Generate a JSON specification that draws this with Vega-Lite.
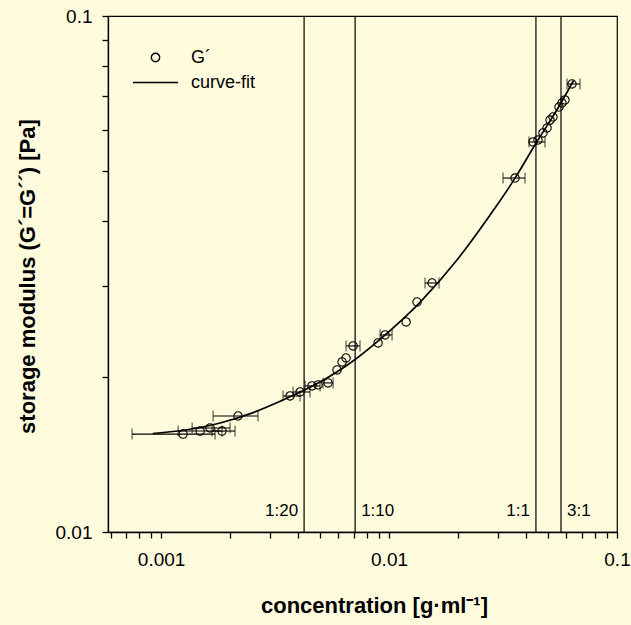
{
  "$schema": "https://vega.github.io/schema/vega-lite/v6.json",
  "width": 509,
  "height": 516,
  "autosize": {"type": "none"},
  "padding": {"left": 108, "top": 16, "right": 14, "bottom": 93},
  "background": "#FFFBDC",
  "config": {
    "view": {"stroke": "black", "strokeWidth": 1.2},
    "font": "Liberation Sans",
    "axis": {
      "grid": false,
      "domainColor": "black",
      "domainWidth": 1.3,
      "tickColor": "black",
      "tickWidth": 1.3,
      "tickSize": 6,
      "labelColor": "black",
      "titleColor": "black",
      "labelFont": "Liberation Sans",
      "titleFont": "Liberation Sans",
      "labelFontSize": 19,
      "titleFontSize": 22,
      "titleFontWeight": "bold",
      "labelOverlap": false,
      "labelFlush": false,
      "labelBound": false
    },
    "legend": {
      "orient": "none",
      "legendX": 24,
      "legendY": 29,
      "padding": 0,
      "labelFont": "Liberation Sans",
      "labelFontSize": 18,
      "labelColor": "black",
      "labelOffset": 12,
      "rowPadding": 0,
      "clipHeight": 25,
      "symbolStrokeColor": "black",
      "symbolStrokeWidth": 1.4,
      "symbolFillColor": "transparent"
    }
  },
  "datasets": {
    "points": [
      {"c": 0.001249, "g": 0.01548, "lo": 0.000746, "hi": 0.001725, "s": "G´"},
      {"c": 0.001483, "g": 0.01569, "lo": 0.001188, "hi": 0.001851, "s": "G´"},
      {"c": 0.00164, "g": 0.01591, "lo": 0.001368, "hi": 0.002007, "s": "G´"},
      {"c": 0.001851, "g": 0.01569, "lo": 0.001674, "hi": 0.002111, "s": "G´"},
      {"c": 0.002176, "g": 0.01678, "lo": 0.001691, "hi": 0.002663, "s": "G´"},
      {"c": 0.003679, "g": 0.01835, "lo": 0.003428, "hi": 0.004071, "s": "G´"},
      {"c": 0.004071, "g": 0.01868, "lo": 0.003792, "hi": 0.004501, "s": "G´"},
      {"c": 0.004594, "g": 0.01919, "lo": 0.004281, "hi": 0.004982, "s": "G´"},
      {"c": 0.004882, "g": 0.01928, "s": "G´"},
      {"c": 0.005402, "g": 0.01945, "lo": 0.005135, "hi": 0.005682, "s": "G´"},
      {"c": 0.005915, "g": 0.02061, "s": "G´"},
      {"c": 0.006222, "g": 0.02136, "s": "G´"},
      {"c": 0.006478, "g": 0.02174, "s": "G´"},
      {"c": 0.006953, "g": 0.02294, "lo": 0.006478, "hi": 0.007459, "s": "G´"},
      {"c": 0.00895, "g": 0.02325, "s": "G´"},
      {"c": 0.009605, "g": 0.02409, "lo": 0.009131, "hi": 0.01031, "s": "G´"},
      {"c": 0.01188, "g": 0.02553, "s": "G´"},
      {"c": 0.01327, "g": 0.02791, "s": "G´"},
      {"c": 0.01544, "g": 0.03038, "lo": 0.01438, "hi": 0.01657, "s": "G´"},
      {"c": 0.0357, "g": 0.04853, "lo": 0.03162, "hi": 0.03949, "s": "G´"},
      {"c": 0.04281, "g": 0.057, "lo": 0.04111, "hi": 0.04833, "s": "G´"},
      {"c": 0.04502, "g": 0.0575, "s": "G´"},
      {"c": 0.04736, "g": 0.05934, "s": "G´"},
      {"c": 0.04932, "g": 0.06066, "s": "G´"},
      {"c": 0.05083, "g": 0.06286, "s": "G´"},
      {"c": 0.05239, "g": 0.06372, "s": "G´"},
      {"c": 0.05565, "g": 0.06662, "s": "G´"},
      {"c": 0.05737, "g": 0.06783, "s": "G´"},
      {"c": 0.05913, "g": 0.06875, "s": "G´"},
      {"c": 0.06346, "g": 0.07383, "lo": 0.06035, "hi": 0.06883, "s": "G´"}
    ],
    "curve": [
      {"c": 0.00092, "g": 0.01552},
      {"c": 0.0013, "g": 0.01578},
      {"c": 0.0018, "g": 0.01625},
      {"c": 0.0025, "g": 0.017},
      {"c": 0.0035, "g": 0.0181},
      {"c": 0.005, "g": 0.01955},
      {"c": 0.007, "g": 0.0215},
      {"c": 0.0091, "g": 0.0236},
      {"c": 0.0137, "g": 0.0279},
      {"c": 0.0199, "g": 0.0337},
      {"c": 0.0277, "g": 0.0411},
      {"c": 0.0357, "g": 0.0485},
      {"c": 0.0437, "g": 0.0563},
      {"c": 0.0562, "g": 0.0673},
      {"c": 0.0645, "g": 0.075}
    ],
    "ratios": [
      {"c": 0.00424, "label": "1:20", "side": "left"},
      {"c": 0.0071, "label": "1:10", "side": "right"},
      {"c": 0.0441, "label": "1:1", "side": "left"},
      {"c": 0.0568, "label": "3:1", "side": "right"}
    ]
  },
  "layer": [
    {
      "data": {"name": "ratios"},
      "mark": {"type": "rule", "color": "black", "strokeWidth": 1.2},
      "encoding": {
        "x": {
          "field": "c",
          "type": "quantitative",
          "scale": {"type": "log", "domain": [0.000585, 0.1], "nice": false},
          "axis": {
            "title": "concentration [g·ml⁻¹]",
            "values": [0.0006, 0.0007, 0.0008, 0.0009, 0.001, 0.002, 0.003, 0.004, 0.005, 0.006, 0.007, 0.008, 0.009, 0.01, 0.02, 0.03, 0.04, 0.05, 0.06, 0.07, 0.08, 0.09, 0.1],
            "labelExpr": "datum.value == 0.001 ? '0.001' : datum.value == 0.01 ? '0.01' : datum.value == 0.1 ? '0.1' : ''",
            "labelPadding": 12,
            "titleX": 266,
            "titleY": 73,
            "titleBaseline": "middle"
          }
        }
      }
    },
    {
      "data": {"name": "points"},
      "transform": [{"filter": "isValid(datum.lo)"}],
      "mark": {"type": "rule", "color": "black", "strokeWidth": 1.1},
      "encoding": {
        "x": {"field": "lo", "type": "quantitative"},
        "x2": {"field": "hi"},
        "y": {
          "field": "g",
          "type": "quantitative",
          "scale": {"type": "log", "domain": [0.01, 0.1], "nice": false},
          "axis": {
            "title": "storage modulus (G´=G´´) [Pa]",
            "values": [0.01, 0.02, 0.03, 0.04, 0.05, 0.06, 0.07, 0.08, 0.09, 0.1],
            "labelExpr": "datum.value == 0.01 ? '0.01' : datum.value == 0.1 ? '0.1' : ''",
            "labelPadding": 10,
            "titleX": -81,
            "titleY": 260,
            "titleBaseline": "middle"
          }
        }
      }
    },
    {
      "data": {"name": "points"},
      "transform": [{"filter": "isValid(datum.lo)"}],
      "mark": {"type": "tick", "orient": "vertical", "color": "black", "size": 11, "thickness": 1.1},
      "encoding": {
        "x": {"field": "lo", "type": "quantitative"},
        "y": {"field": "g", "type": "quantitative"}
      }
    },
    {
      "data": {"name": "points"},
      "transform": [{"filter": "isValid(datum.hi)"}],
      "mark": {"type": "tick", "orient": "vertical", "color": "black", "size": 11, "thickness": 1.1},
      "encoding": {
        "x": {"field": "hi", "type": "quantitative"},
        "y": {"field": "g", "type": "quantitative"}
      }
    },
    {
      "data": {"name": "curve"},
      "mark": {"type": "line", "color": "black", "strokeWidth": 1.7, "interpolate": "monotone"},
      "encoding": {
        "x": {"field": "c", "type": "quantitative"},
        "y": {"field": "g", "type": "quantitative"}
      }
    },
    {
      "data": {"name": "points"},
      "mark": {"type": "point", "filled": false, "color": "black", "strokeWidth": 1.1, "opacity": 1},
      "encoding": {
        "x": {"field": "c", "type": "quantitative"},
        "y": {"field": "g", "type": "quantitative"},
        "shape": {
          "field": "s",
          "type": "nominal",
          "scale": {"domain": ["G´", "curve-fit"], "range": ["circle", "stroke"]},
          "legend": {"title": null}
        },
        "size": {
          "field": "s",
          "type": "nominal",
          "scale": {"type": "point", "padding": 0, "domain": ["G´", "curve-fit"], "range": [70, 2025]},
          "legend": {"title": null}
        }
      }
    },
    {
      "data": {"name": "ratios"},
      "transform": [{"filter": "datum.side == 'left'"}],
      "mark": {"type": "text", "align": "right", "baseline": "middle", "dx": -6, "fontSize": 17, "font": "Liberation Sans", "color": "black"},
      "encoding": {
        "x": {"field": "c", "type": "quantitative"},
        "y": {"datum": 0.011, "type": "quantitative"},
        "text": {"field": "label"}
      }
    },
    {
      "data": {"name": "ratios"},
      "transform": [{"filter": "datum.side == 'right'"}],
      "mark": {"type": "text", "align": "left", "baseline": "middle", "dx": 6, "fontSize": 17, "font": "Liberation Sans", "color": "black"},
      "encoding": {
        "x": {"field": "c", "type": "quantitative"},
        "y": {"datum": 0.011, "type": "quantitative"},
        "text": {"field": "label"}
      }
    }
  ]
}
